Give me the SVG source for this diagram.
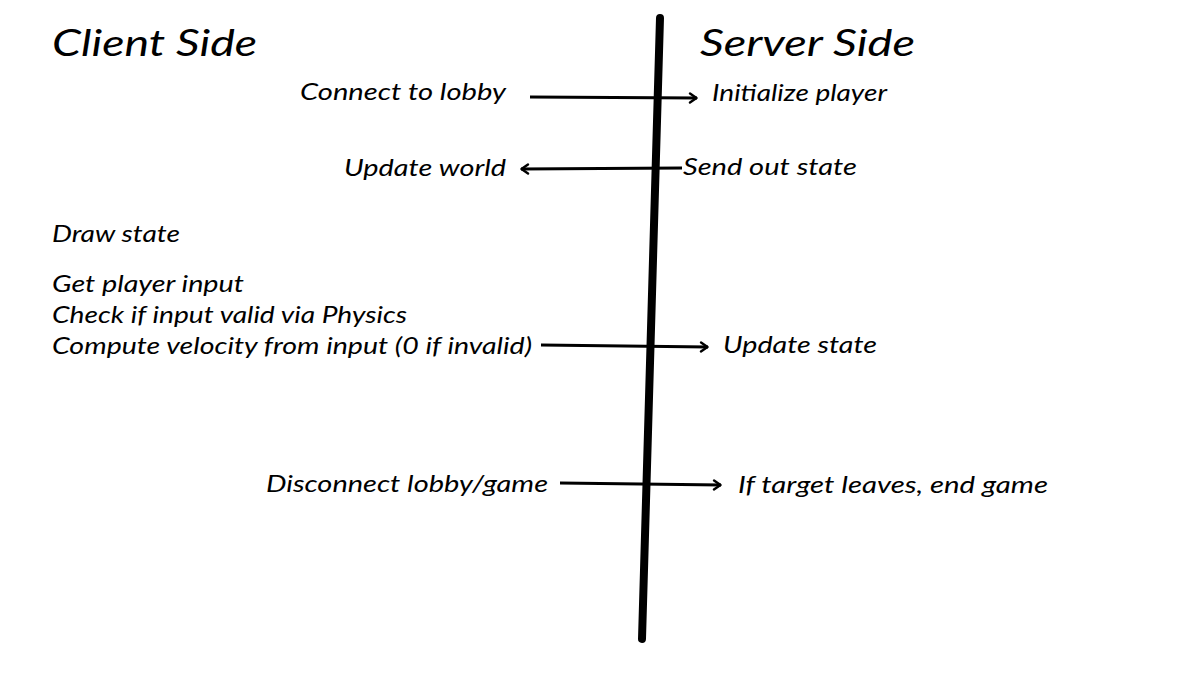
<svg xmlns="http://www.w3.org/2000/svg" width="1204" height="677" viewBox="0 0 1204 677">
<defs>
<marker id="ah" viewBox="0 0 10 12" refX="9" refY="6" markerWidth="10" markerHeight="12" markerUnits="userSpaceOnUse" orient="auto">
<path d="M2,1.5 L8.5,6 L2,10.5" fill="none" stroke="#000" stroke-width="2.4" stroke-linecap="round" stroke-linejoin="round"/>
</marker>
<style>
text{font-family:"Lato","Noto Sans",sans-serif;font-style:italic;fill:#000;}
.h{font-size:37px;}
.t{font-size:23px;}
.c{stroke:#000;stroke-width:2.8;fill:none;marker-end:url(#ah);}
</style>
</defs>
<rect width="1204" height="677" fill="#fff"/>
<g id="divider"><line x1="660" y1="18" x2="642" y2="639" stroke="#000" stroke-width="8" stroke-linecap="round"/></g>
<g id="headers">
<text class="h" x="52" y="56" textLength="205" lengthAdjust="spacingAndGlyphs">Client Side</text>
<text class="h" x="700" y="56" textLength="215" lengthAdjust="spacingAndGlyphs">Server Side</text>
</g>
<g id="client">
<text class="t" x="300" y="100" textLength="206" lengthAdjust="spacingAndGlyphs">Connect to lobby</text>
<text class="t" x="344" y="176" textLength="162" lengthAdjust="spacingAndGlyphs">Update world</text>
<text class="t" x="52" y="242" textLength="128" lengthAdjust="spacingAndGlyphs">Draw state</text>
<text class="t" x="52" y="292" textLength="192" lengthAdjust="spacingAndGlyphs">Get player input</text>
<text class="t" x="52" y="323" textLength="355" lengthAdjust="spacingAndGlyphs">Check if input valid via Physics</text>
<text class="t" x="52" y="354" textLength="480" lengthAdjust="spacingAndGlyphs">Compute velocity from input (0 if invalid)</text>
<text class="t" x="266" y="492" textLength="282" lengthAdjust="spacingAndGlyphs">Disconnect lobby/game</text>
</g>
<g id="server">
<text class="t" x="712" y="101" textLength="175" lengthAdjust="spacingAndGlyphs">Initialize player</text>
<text class="t" x="683" y="175" textLength="174" lengthAdjust="spacingAndGlyphs">Send out state</text>
<text class="t" x="723" y="353" textLength="154" lengthAdjust="spacingAndGlyphs">Update state</text>
<text class="t" x="738" y="493" textLength="310" lengthAdjust="spacingAndGlyphs">If target leaves, end game</text>
</g>
<g id="connectors">
<line class="c" x1="530" y1="97" x2="697" y2="98"/>
<line class="c" x1="682" y1="168" x2="521" y2="169"/>
<line class="c" x1="541" y1="345" x2="708" y2="347"/>
<line class="c" x1="560" y1="483" x2="721" y2="485"/>
</g>
</svg>
